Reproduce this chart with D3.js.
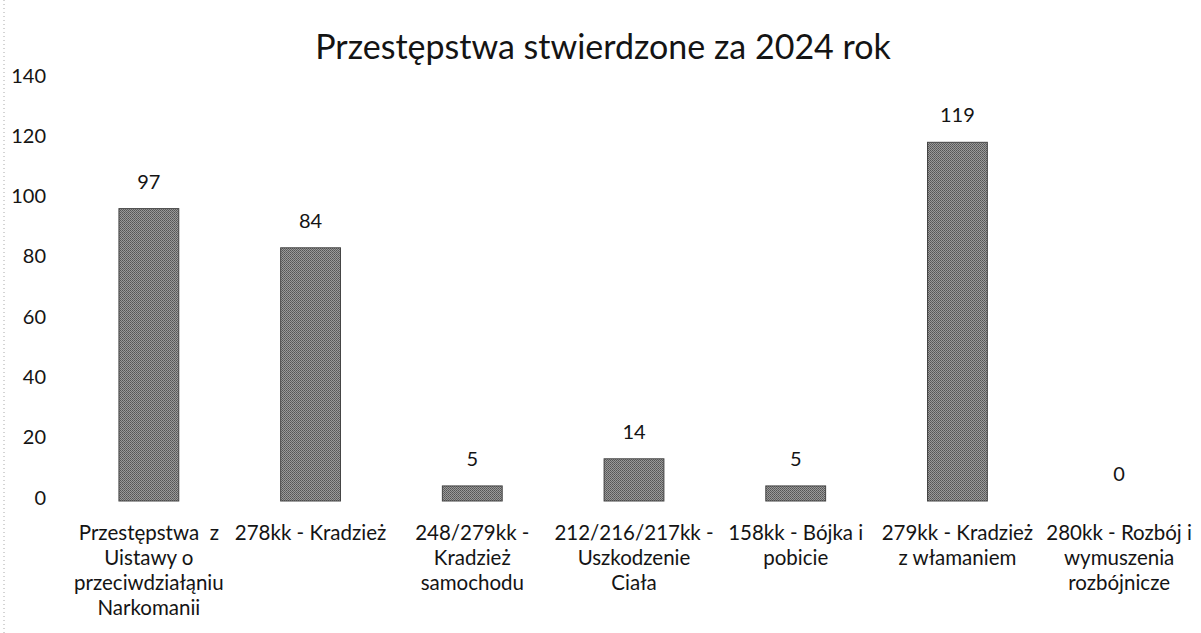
<!DOCTYPE html>
<html>
<head>
<meta charset="utf-8">
<script src="https://cdn.jsdelivr.net/npm/d3@7"></script>
<style>
  body { margin: 0; background: #fff; }
  svg { display: block; }
  text { font-family: Lato, "Open Sans", sans-serif; fill: #141414; }
</style>
</head>
<body>
<svg id="chart" width="1201" height="633"></svg>
<script>
// chart data
var titleText = "Przestępstwa stwierdzone za 2024 rok";
var categories = [
  ["Przestępstwa  z", "Uistawy o", "przeciwdziałąniu", "Narkomanii"],
  ["278kk - Kradzież"],
  ["248/279kk -", "Kradzież", "samochodu"],
  ["212/216/217kk -", "Uszkodzenie", "Ciała"],
  ["158kk - Bójka i", "pobicie"],
  ["279kk - Kradzież", "z włamaniem"],
  ["280kk - Rozbój i", "wymuszenia", "rozbójnicze"]
];
var values = [97, 84, 5, 14, 5, 119, 0];
var yTicks = [0, 20, 40, 60, 80, 100, 120, 140];

var svg = d3.select("#chart");

// pattern to mimic the grey dithered fill
var defs = svg.append("defs");
var pat = defs.append("pattern")
  .attr("id", "grain")
  .attr("width", 2).attr("height", 2)
  .attr("patternUnits", "userSpaceOnUse");
pat.append("rect").attr("width", 2).attr("height", 2).attr("fill", "#9a9a9a");
pat.append("rect").attr("width", 1).attr("height", 1).attr("fill", "#555");
pat.append("rect").attr("x", 1).attr("y", 1).attr("width", 1).attr("height", 1).attr("fill", "#636363");

// scan edge
svg.append("line")
  .attr("x1", 4).attr("x2", 4).attr("y1", 0).attr("y2", 633)
  .attr("stroke", "#aaa").attr("stroke-dasharray", "1,3");

var x = d3.scaleBand()
  .domain(d3.range(categories.length))
  .range([68, 1200])
  .paddingInner(0.63)
  .paddingOuter(0.315);

var y = d3.scaleLinear()
  .domain([0, 140])
  .range([501, 79]);

// title
svg.append("text")
  .attr("x", 603)
  .attr("y", 59)
  .attr("text-anchor", "middle")
  .attr("font-size", 34)
  .text(titleText);

// y axis labels only (no line, no gridlines)
var yAxis = svg.append("g")
  .attr("transform", "translate(46,0)")
  .call(d3.axisLeft(y).tickValues(yTicks).tickSize(0).tickPadding(0));
yAxis.select(".domain").remove();
yAxis.selectAll("text")
  .attr("font-family", "Lato, 'Open Sans', sans-serif")
  .attr("font-size", 20)
  .attr("fill", "#141414")
  .attr("dy", "0.15em");

// bars
svg.append("g")
  .selectAll("rect")
  .data(values)
  .enter().append("rect")
  .attr("x", function (d, i) { return x(i); })
  .attr("y", function (d) { return y(d); })
  .attr("width", x.bandwidth())
  .attr("height", function (d) { return y(0) - y(d); })
  .attr("fill", "url(#grain)")
  .attr("stroke", "#444")
  .attr("stroke-width", function (d) { return d > 0 ? 1 : 0; });

// value labels
svg.append("g")
  .selectAll("text")
  .data(values)
  .enter().append("text")
  .attr("x", function (d, i) { return x(i) + x.bandwidth() / 2; })
  .attr("y", function (d) { return y(d) - 20; })
  .attr("text-anchor", "middle")
  .attr("font-size", 20)
  .text(function (d) { return d; });

// category labels
var cat = svg.append("g")
  .selectAll("text")
  .data(categories)
  .enter().append("text")
  .attr("text-anchor", "middle")
  .attr("font-size", 20.5)
  .style("white-space", "pre");

cat.selectAll("tspan")
  .data(function (d, i) { return d.map(function (line) { return { line: line, i: i }; }); })
  .enter().append("tspan")
  .attr("x", function (d) { return x(d.i) + x.bandwidth() / 2; })
  .attr("y", function (d, j) { return 540 + j * 25; })
  .text(function (d) { return d.line; });
</script>
</body>
</html>
